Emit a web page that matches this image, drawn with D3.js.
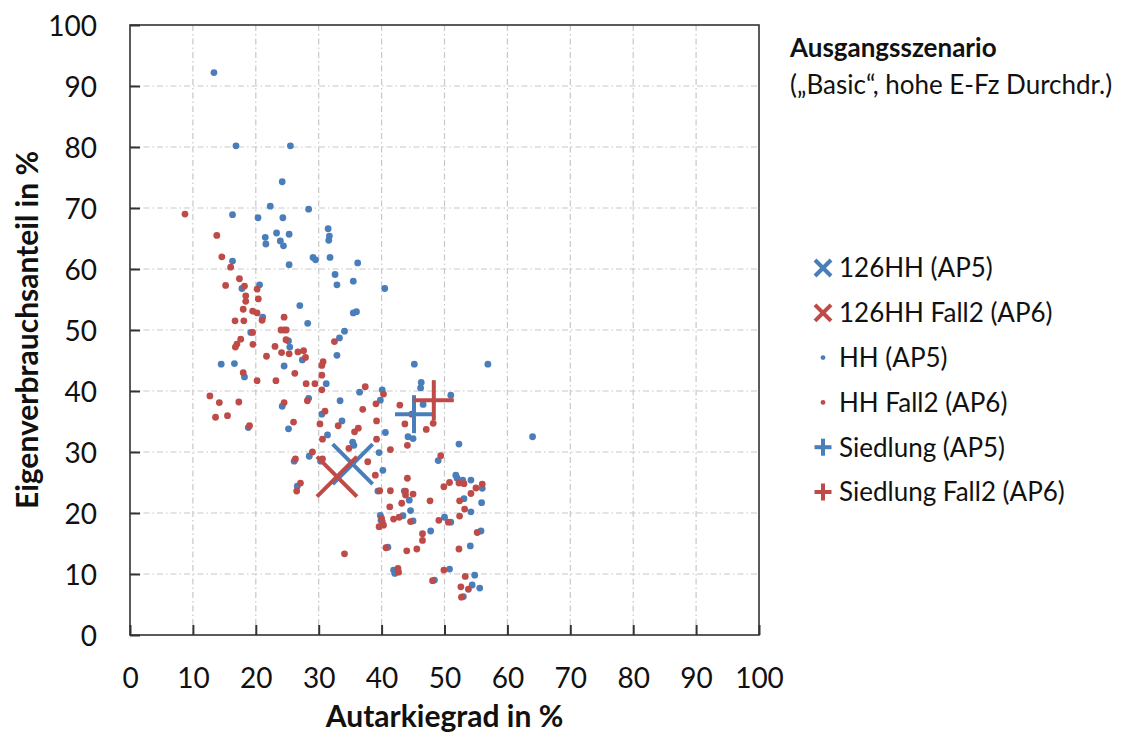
<!DOCTYPE html>
<html><head><meta charset="utf-8">
<script src="https://cdn.jsdelivr.net/npm/d3@7"></script>
<style>
html,body{margin:0;padding:0;background:#fff;}
svg{display:block;font-family:Lato,"Open Sans",sans-serif;}
</style></head>
<body><svg id="c" width="1141" height="735"></svg>
<script>
// ---- data ----
const xTicks = [0,10,20,30,40,50,60,70,80,90,100];
const yTicks = [0,10,20,30,40,50,60,70,80,90,100];
const titleLine1 = "Ausgangsszenario";
const titleLine2 = "(\u201EBasic\u201C, hohe E-Fz Durchdr.)";
const xLabel = "Autarkiegrad in %";
const yLabel = "Eigenverbrauchsanteil in %";
const seriesNames = ["126HH (AP5)","126HH Fall2 (AP6)","HH (AP5)","HH Fall2 (AP6)","Siedlung (AP5)","Siedlung Fall2 (AP6)"];

const hhAP5 = [
[13.35,92.2],[16.85,80.2],[25.5,80.2],[24.2,74.3],[22.3,70.3],[28.4,69.8],[16.3,68.9],[20.35,68.4],[24.3,68.4],
[23.3,65.9],[21.5,65.2],[21.6,64.1],[23.9,64.6],[24.4,63.8],[25.3,65.7],[31.5,66.6],[31.7,65.4],[31.6,64.7],
[29.1,61.9],[29.5,61.5],[31.8,61.9],[36.2,61.0],[25.3,60.7],[16.3,61.3],[32.6,59.1],[35.5,58.0],[32.9,57.4],
[20.6,57.4],[17.8,56.8],[40.5,56.8],[27.0,54.0],[35.5,52.8],[36.0,53.0],[28.25,51.1],[34.1,49.8],[33.3,48.7],
[32.9,45.85],[21.1,52.1],[19.2,49.6],[25.2,48.2],[25.4,47.2],[27.4,45.1],[14.5,44.4],[16.6,44.5],[24.5,44.1],
[18.2,42.3],[31.2,41.2],[36.5,39.8],[39.8,38.5],[40.1,40.2],[28.4,38.8],[33.4,38.4],[24.2,37.5],[30.5,36.2],
[33.7,35.1],[25.2,33.8],[18.8,34.0],[31.4,32.8],[35.4,31.6],[35.6,31.1],[40.6,33.2],[39.6,29.9],[40.2,27.0],
[28.5,29.3],[30.3,28.5],[26.1,28.5],[26.6,24.4],[39.4,23.6],[43.6,23.6],[44.4,22.1],[44.6,20.4],[39.8,19.6],
[39.9,18.8],[43.4,19.55],[45.0,18.7],[49.0,28.6],[52.3,31.3],[51.8,26.2],[52.0,25.7],[52.9,25.4],[54.2,25.4],
[56.0,24.05],[55.9,21.7],[53.1,22.35],[54.2,20.2],[50.0,19.3],[51.0,18.5],[47.8,17.05],[55.8,17.05],[41.0,14.4],
[54.1,14.6],[41.9,10.65],[42.1,10.1],[50.8,10.8],[48.4,9.0],[54.8,9.8],[54.4,8.2],[55.6,7.7],[53.0,6.3],
[64.0,32.5],[56.9,44.4],[45.2,44.4],[46.3,41.4],[46.2,40.5],[51.0,39.3],[46.6,37.8],[44.2,32.5],[45.0,32.2]
];
const hhAP6 = [
[8.74,69.0],[13.8,65.5],[14.6,62.0],[16.0,60.3],[17.4,58.4],[15.2,57.3],[18.2,57.2],[20.2,56.7],[18.4,55.6],
[20.4,55.1],[18.4,54.7],[18.0,53.4],[19.5,53.1],[20.2,52.8],[21.0,51.6],[24.5,52.1],[16.7,51.5],[18.1,51.5],
[24.0,50.0],[24.5,50.0],[24.85,50.0],[19.5,49.6],[24.8,48.4],[17.6,48.5],[17.0,47.7],[16.75,47.2],[19.55,47.65],
[23.05,47.3],[24.1,46.3],[25.3,46.1],[26.7,46.4],[27.6,46.6],[27.9,45.5],[21.7,45.7],[30.7,44.8],[30.5,44.2],
[18.0,43.0],[26.2,42.9],[20.2,41.7],[23.2,41.7],[28.0,41.2],[29.4,41.2],[30.5,42.6],[30.5,40.2],[37.4,40.7],
[12.7,39.2],[14.2,38.1],[17.3,38.2],[28.2,38.4],[39.1,37.9],[37.0,37.0],[24.5,38.1],[31.0,36.7],[13.6,35.7],
[15.5,35.95],[39.2,35.1],[33.1,34.3],[30.2,34.6],[26.0,34.9],[19.0,34.3],[30.6,32.1],[35.7,33.3],[36.3,33.9],
[39.2,32.1],[32.5,48.1],[34.8,30.6],[41.4,30.4],[37.8,28.4],[39.0,26.2],[29.0,30.0],[30.6,28.85],[26.3,28.85],
[27.1,24.9],[26.5,23.6],[39.7,23.65],[41.4,23.65],[44.1,25.7],[43.8,23.6],[45.0,23.1],[43.8,22.95],[43.2,21.6],
[41.3,21.0],[47.7,22.0],[40.1,18.6],[39.6,17.75],[40.3,18.0],[40.0,19.1],[41.9,19.0],[42.8,19.3],[44.6,18.6],
[49.9,24.3],[50.8,25.0],[49.4,29.4],[52.3,24.9],[53.1,24.8],[55.0,24.1],[56.0,24.75],[54.2,23.2],[52.4,22.0],
[53.2,20.65],[52.4,19.5],[49.1,18.8],[50.6,18.5],[46.5,16.6],[46.5,15.5],[55.2,16.8],[40.7,14.3],[44.0,13.8],
[45.6,14.1],[52.3,14.1],[34.1,13.3],[42.6,10.9],[42.7,10.3],[49.9,10.65],[48.1,8.9],[53.3,9.6],[52.6,7.9],
[53.8,7.5],[52.7,6.2],[42.9,37.7],[44.8,36.2],[48.2,34.7],[43.7,34.6],[47.1,33.7],[44.1,31.1],[40.3,39.5]
];
const hh126AP5 = [[35.4,28.0]];
const hh126AP6 = [[32.9,25.95]];
const siedlungAP5 = [[45.15,36.2]];
const siedlungAP6 = [[48.3,38.5]];

// ---- styles ----
const BLUE = "#4a7ebb", RED = "#be4b48";
const svg = d3.select("#c");
const m = {l:130, r:759, t:25, b:635};
const x = d3.scaleLinear().domain([0,100]).range([m.l, m.r]);
const y = d3.scaleLinear().domain([0,100]).range([m.b, m.t]);

// gridlines
const grid = svg.append("g").attr("stroke","#c8c8c8").attr("stroke-width",1.2).attr("stroke-dasharray","6,3,1.5,3");
grid.selectAll(".gv").data(xTicks.filter(d=>d>0&&d<100)).join("line")
  .attr("x1",d=>x(d)).attr("x2",d=>x(d)).attr("y1",m.t).attr("y2",m.b);
grid.selectAll(".gh").data(yTicks.filter(d=>d>0&&d<100)).join("line")
  .attr("y1",d=>y(d)).attr("y2",d=>y(d)).attr("x1",m.l).attr("x2",m.r);

// axes
const fontSize = 28;
const ax = svg.append("g").attr("transform",`translate(0,${m.b})`)
  .call(d3.axisBottom(x).tickValues(xTicks).tickSizeInner(-10).tickSizeOuter(0).tickPadding(33));
const ay = svg.append("g").attr("transform",`translate(${m.l},0)`)
  .call(d3.axisLeft(y).tickValues(yTicks).tickSizeInner(-10).tickSizeOuter(0).tickPadding(33));
[ax,ay].forEach(g=>{
  g.select(".domain").remove();
  g.selectAll("line").attr("stroke","#333").attr("stroke-width",2);
  g.selectAll("text").attr("font-size",fontSize).attr("fill","#111").attr("font-family","Lato");
});
ay.selectAll(".tick text").attr("dy","0.36em");

// frame
svg.append("rect").attr("x",m.l).attr("y",m.t).attr("width",m.r-m.l).attr("height",m.b-m.t)
  .attr("fill","none").attr("stroke","#333").attr("stroke-width",1.6);

// axis titles
svg.append("text").attr("x",(m.l+m.r)/2).attr("y",727).attr("text-anchor","middle")
  .attr("font-size",30).attr("font-weight","bold").attr("fill","#111").text(xLabel);
svg.append("text").attr("transform",`translate(38,${(m.t+m.b)/2}) rotate(-90)`).attr("text-anchor","middle")
  .attr("font-size",30).attr("font-weight","bold").attr("fill","#111").text(yLabel);

// markers
function cross(g, cx, cy, h, color, w){
  g.append("line").attr("x1",cx-h).attr("y1",cy-h).attr("x2",cx+h).attr("y2",cy+h).attr("stroke",color).attr("stroke-width",w);
  g.append("line").attr("x1",cx-h).attr("y1",cy+h).attr("x2",cx+h).attr("y2",cy-h).attr("stroke",color).attr("stroke-width",w);
}
function plus(g, cx, cy, h, color, w){
  g.append("line").attr("x1",cx-h).attr("y1",cy).attr("x2",cx+h).attr("y2",cy).attr("stroke",color).attr("stroke-width",w);
  g.append("line").attr("x1",cx).attr("y1",cy-h).attr("x2",cx).attr("y2",cy+h).attr("stroke",color).attr("stroke-width",w);
}
const pts = svg.append("g");
pts.selectAll(".b").data(hhAP5).join("circle").attr("cx",d=>x(d[0])).attr("cy",d=>y(d[1])).attr("r",3.4).attr("fill",BLUE);
pts.selectAll(".r").data(hhAP6).join("circle").attr("cx",d=>x(d[0])).attr("cy",d=>y(d[1])).attr("r",3.4).attr("fill",RED);
const big = svg.append("g").attr("stroke-linecap","butt");
hh126AP5.forEach(d=>cross(big, x(d[0]), y(d[1]), 20, BLUE, 4));
hh126AP6.forEach(d=>cross(big, x(d[0]), y(d[1]), 20, RED, 4));
siedlungAP5.forEach(d=>plus(big, x(d[0]), y(d[1]), 19, BLUE, 4));
siedlungAP6.forEach(d=>plus(big, x(d[0]), y(d[1]), 20, RED, 4));

// title
svg.append("text").attr("x",790).attr("y",57).attr("font-size",26).attr("font-weight","bold").attr("fill","#111").text(titleLine1);
svg.append("text").attr("x",790).attr("y",94).attr("font-size",26).attr("fill","#111").text(titleLine2);

// legend
const legY0 = 268, legDy = 44.8;
const lg = svg.append("g");
const legColors = [BLUE,RED,BLUE,RED,BLUE,RED];
const legTypes = ["x","x","dot","dot","plus","plus"];
seriesNames.forEach((name,i)=>{
  const cy = legY0 + i*legDy, cx = 823;
  if(legTypes[i]==="x") cross(lg, cx, cy, 8, legColors[i], 4);
  else if(legTypes[i]==="plus") plus(lg, cx, cy, 8.5, legColors[i], 4);
  else lg.append("circle").attr("cx",cx).attr("cy",cy).attr("r",2.4).attr("fill",legColors[i]);
  lg.append("text").attr("x",839).attr("y",cy).attr("dy","0.36em").attr("font-size",26).attr("fill","#111").text(name);
});
</script></body></html>
